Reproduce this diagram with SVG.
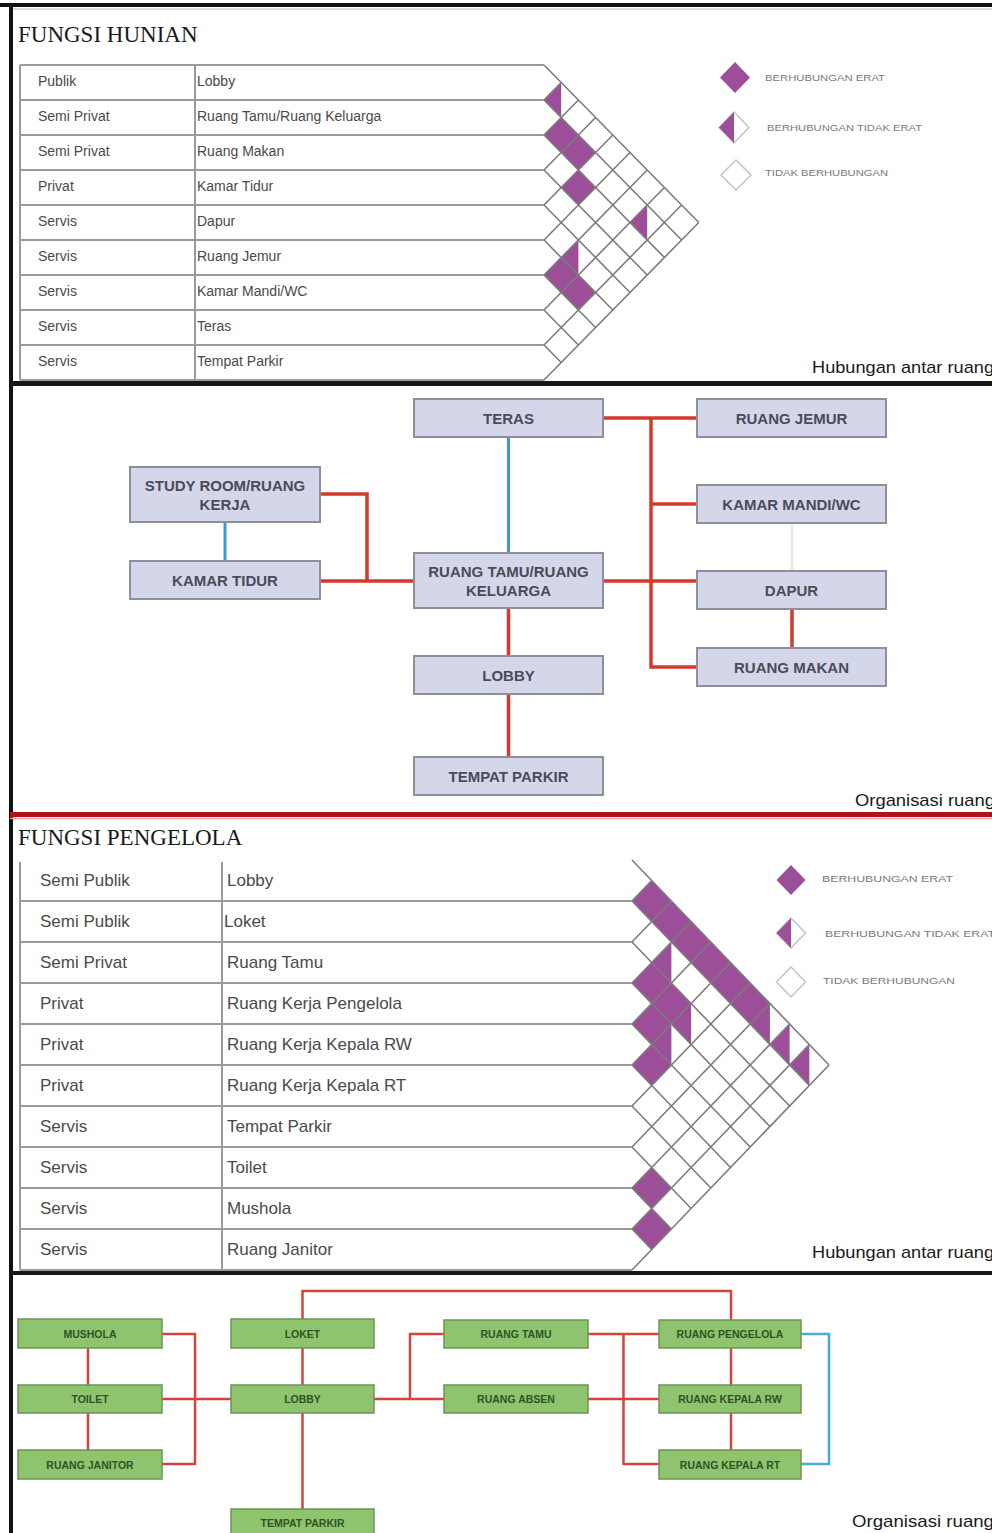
<svg xmlns="http://www.w3.org/2000/svg" width="992" height="1533" viewBox="0 0 992 1533">
<style>
.bg{fill:#ffffff}
.title{font-family:"Liberation Serif",serif;font-size:23px;fill:#1a1a1a}
.t1{font-family:"Liberation Sans",Arial,sans-serif;font-size:14px;fill:#4a4a4a}
.t2{font-family:"Liberation Sans",Arial,sans-serif;font-size:17px;fill:#4a4a4a}
.tl{stroke:#9a9a9a;stroke-width:2;fill:none}
.grid{stroke:#7c7c7c;stroke-width:1.6;fill:none}
.pf{fill:#9c4f98}
.lg{font-family:"Liberation Sans",Arial,sans-serif;font-size:9.5px;fill:#7a7a7a}
.lgo{fill:#ffffff;stroke:#c4c4c4;stroke-width:1.5}
.cap{font-family:"Liberation Sans",Arial,sans-serif;font-size:17px;fill:#1a1a1a}
.nb{fill:#d4d7ea;stroke:#8e8e9c;stroke-width:2}
.nt{font-family:"Liberation Sans",Arial,sans-serif;font-size:15px;font-weight:bold;fill:#4b4b58;text-anchor:middle}
.gb{fill:#8ec46e;stroke:#6c9456;stroke-width:1.5}
.gt{font-family:"Liberation Sans",Arial,sans-serif;font-size:10.5px;font-weight:bold;fill:#2f5324;text-anchor:middle}
.red{stroke:#d23b2c;stroke-width:3.5;fill:none}
.red2{stroke:#d2453c;stroke-width:2.5;fill:none}
.blue{stroke:#3a9bd2;stroke-width:3;fill:none}
.blue2{stroke:#45abe0;stroke-width:2.5;fill:none}
</style>
<rect class="bg" x="0" y="0" width="992" height="1533"/>

<!-- frame and separators -->
<g id="frame">
<rect x="0" y="3" width="992" height="4" fill="#111"/>
<rect x="9" y="3" width="4" height="1530" fill="#111"/>
<line x1="13" y1="9" x2="992" y2="9" stroke="#bbb" stroke-width="1"/>
<rect x="10" y="381" width="982" height="5" fill="#161616"/>
<rect x="10" y="812" width="982" height="5" fill="#b0121a"/>
<line x1="10" y1="818.5" x2="992" y2="818.5" stroke="#e8a0a0" stroke-width="1.5"/>
<rect x="10" y="1271" width="982" height="4" fill="#161616"/>
</g>

<!-- ===== FUNGSI HUNIAN ===== -->
<g id="hunian-matrix">
<text class="title" x="18" y="42">FUNGSI HUNIAN</text>
<path class="tl" d="M20,65H544M20,100H544M20,135H544M20,170H544M20,205H544M20,240H544M20,275H544M20,310H544M20,345H544M20,380H544M20,65V380M195,65V380"/>
<g class="t1">
<text x="38" y="86">Publik</text><text x="197" y="86">Lobby</text>
<text x="38" y="121">Semi Privat</text><text x="197" y="121">Ruang Tamu/Ruang Keluarga</text>
<text x="38" y="156">Semi Privat</text><text x="197" y="156">Ruang Makan</text>
<text x="38" y="191">Privat</text><text x="197" y="191">Kamar Tidur</text>
<text x="38" y="226">Servis</text><text x="197" y="226">Dapur</text>
<text x="38" y="261">Servis</text><text x="197" y="261">Ruang Jemur</text>
<text x="38" y="296">Servis</text><text x="197" y="296">Kamar Mandi/WC</text>
<text x="38" y="331">Servis</text><text x="197" y="331">Teras</text>
<text x="38" y="366">Servis</text><text x="197" y="366">Tempat Parkir</text>
</g>
<g class="pf">
<polygon points="561.2,82.5 544,100 561.2,117.5"/>
<polygon points="561.2,117.5 578.4,135 561.2,152.5 544,135"/>
<polygon points="578.4,135 595.6,152.5 578.4,170 561.2,152.5"/>
<polygon points="578.4,170 595.6,187.5 578.4,205 561.2,187.5"/>
<polygon points="647.2,205 630,222.5 647.2,240"/>
<polygon points="578.4,240 561.2,257.5 578.4,275"/>
<polygon points="561.2,257.5 578.4,275 561.2,292.5 544,275"/>
<polygon points="578.4,275 595.6,292.5 578.4,310 561.2,292.5"/>
</g>
<path class="grid" d="M544,65l154.8,157.5M544,100l137.6,140M544,100l17.2,-17.5M544,135l120.4,122.5M544,135l34.4,-35M544,170l103.2,105M544,170l51.6,-52.5M544,205l86,87.5M544,205l68.8,-70M544,240l68.8,70M544,240l86,-87.5M544,275l51.6,52.5M544,275l103.2,-105M544,310l34.4,35M544,310l120.4,-122.5M544,345l17.2,17.5M544,345l137.6,-140M544,380l154.8,-157.5"/>
</g>

<g id="hunian-legend">
<polygon class="pf" points="735,62 750,77.5 735,93 720,77.5"/>
<text class="lg" x="765" y="81" textLength="120" lengthAdjust="spacingAndGlyphs">BERHUBUNGAN ERAT</text>
<polygon class="lgo" points="734,112 749,127.5 734,143 719,127.5"/>
<polygon class="pf" points="734,112 719,127.5 734,143"/>
<text class="lg" x="767" y="131" textLength="155" lengthAdjust="spacingAndGlyphs">BERHUBUNGAN TIDAK ERAT</text>
<polygon class="lgo" points="736,160 751,175 736,190 721,175"/>
<text class="lg" x="765" y="176" textLength="123" lengthAdjust="spacingAndGlyphs">TIDAK BERHUBUNGAN</text>
<text class="cap" x="812" y="373" textLength="182" lengthAdjust="spacingAndGlyphs">Hubungan antar ruang</text>
</g>

<!-- ===== ORGANISASI HUNIAN ===== -->
<g id="hunian-connectors">
<path class="red" d="M603,418H697M651,418V667H697M651,504H697M603,581H697M792,609V648M320,494H367V581M320,581H414M508.5,608V656M508.5,694V757"/>
<path class="blue" d="M508.5,437V553M225,522V561"/>
<path d="M792,523V571" stroke="#cfcfcf" stroke-width="1" fill="none"/>
</g>
<g id="h-teras"><rect class="nb" x="414" y="399" width="189" height="38"/><text class="nt" x="508.5" y="423.5">TERAS</text></g>
<g id="h-ruang-jemur"><rect class="nb" x="697" y="399" width="189" height="38"/><text class="nt" x="791.5" y="423.5">RUANG JEMUR</text></g>
<g id="h-study"><rect class="nb" x="130" y="467" width="190" height="55"/><text class="nt" x="225" y="491">STUDY ROOM/RUANG</text><text class="nt" x="225" y="510">KERJA</text></g>
<g id="h-kamar-mandi"><rect class="nb" x="697" y="485" width="189" height="38"/><text class="nt" x="791.5" y="509.5">KAMAR MANDI/WC</text></g>
<g id="h-kamar-tidur"><rect class="nb" x="130" y="561" width="190" height="38"/><text class="nt" x="225" y="585.5">KAMAR TIDUR</text></g>
<g id="h-ruang-tamu"><rect class="nb" x="414" y="553" width="189" height="55"/><text class="nt" x="508.5" y="577">RUANG TAMU/RUANG</text><text class="nt" x="508.5" y="596">KELUARGA</text></g>
<g id="h-dapur"><rect class="nb" x="697" y="571" width="189" height="38"/><text class="nt" x="791.5" y="595.5">DAPUR</text></g>
<g id="h-lobby"><rect class="nb" x="414" y="656" width="189" height="38"/><text class="nt" x="508.5" y="680.5">LOBBY</text></g>
<g id="h-ruang-makan"><rect class="nb" x="697" y="648" width="189" height="38"/><text class="nt" x="791.5" y="672.5">RUANG MAKAN</text></g>
<g id="h-tempat-parkir"><rect class="nb" x="414" y="757" width="189" height="38"/><text class="nt" x="508.5" y="781.5">TEMPAT PARKIR</text></g>
<text class="cap" x="855" y="806" textLength="140" lengthAdjust="spacingAndGlyphs">Organisasi ruang</text>

<!-- ===== FUNGSI PENGELOLA ===== -->
<g id="pengelola-matrix">
<text class="title" x="18" y="845">FUNGSI PENGELOLA</text>
<path class="tl" d="M20,901H632M20,942H632M20,983H632M20,1024H632M20,1065H632M20,1106H632M20,1147H632M20,1188H632M20,1229H632M20,1270H632M20,862V1270M222,862V1270"/>
<g class="t2">
<text x="40" y="886">Semi Publik</text><text x="227" y="886">Lobby</text>
<text x="40" y="927">Semi Publik</text><text x="224" y="927">Loket</text>
<text x="40" y="968">Semi Privat</text><text x="227" y="968">Ruang Tamu</text>
<text x="40" y="1009">Privat</text><text x="227" y="1009">Ruang Kerja Pengelola</text>
<text x="40" y="1050">Privat</text><text x="227" y="1050">Ruang Kerja Kepala RW</text>
<text x="40" y="1091">Privat</text><text x="227" y="1091">Ruang Kerja Kepala RT</text>
<text x="40" y="1132">Servis</text><text x="227" y="1132">Tempat Parkir</text>
<text x="40" y="1173">Servis</text><text x="227" y="1173">Toilet</text>
<text x="40" y="1214">Servis</text><text x="227" y="1214">Mushola</text>
<text x="40" y="1255">Servis</text><text x="227" y="1255">Ruang Janitor</text>
</g>
<g class="pf">
<polygon points="651.7,880.5 671.4,901 651.7,921.5 632,901"/>
<polygon points="671.4,901 691.1,921.5 671.4,942 651.7,921.5"/>
<polygon points="691.1,921.5 710.8,942 691.1,962.5 671.4,942"/>
<polygon points="710.8,942 730.5,962.5 710.8,983 691.1,962.5"/>
<polygon points="730.5,962.5 750.2,983 730.5,1003.5 710.8,983"/>
<polygon points="750.2,983 769.9,1003.5 750.2,1024 730.5,1003.5"/>
<polygon points="769.9,1003.5 750.2,1024 769.9,1044.5"/>
<polygon points="789.6,1024 769.9,1044.5 789.6,1065"/>
<polygon points="809.3,1044.5 789.6,1065 809.3,1085.5"/>
<polygon points="671.4,942 651.7,962.5 671.4,983"/>
<polygon points="651.7,962.5 671.4,983 651.7,1003.5 632,983"/>
<polygon points="671.4,983 691.1,1003.5 671.4,1024 651.7,1003.5"/>
<polygon points="691.1,1003.5 671.4,1024 691.1,1044.5"/>
<polygon points="651.7,1003.5 671.4,1024 651.7,1044.5 632,1024"/>
<polygon points="671.4,1024 651.7,1044.5 671.4,1065"/>
<polygon points="651.7,1044.5 671.4,1065 651.7,1085.5 632,1065"/>
<polygon points="651.7,1167.5 671.4,1188 651.7,1208.5 632,1188"/>
<polygon points="651.7,1208.5 671.4,1229 651.7,1249.5 632,1229"/>
</g>
<path class="grid" d="M632,860l197,205M632,901l177.3,184.5M632,901l19.7,-20.5M632,942l157.6,164M632,942l39.4,-41M632,983l137.9,143.5M632,983l59.1,-61.5M632,1024l118.2,123M632,1024l78.8,-82M632,1065l98.5,102.5M632,1065l98.5,-102.5M632,1106l78.8,82M632,1106l118.2,-123M632,1147l59.1,61.5M632,1147l137.9,-143.5M632,1188l39.4,41M632,1188l157.6,-164M632,1229l19.7,20.5M632,1229l177.3,-184.5M632,1270l197,-205"/>
</g>

<g id="pengelola-legend">
<polygon class="pf" points="791,865 805.5,880 791,895 776.5,880"/>
<text class="lg" x="822" y="882" textLength="131" lengthAdjust="spacingAndGlyphs">BERHUBUNGAN ERAT</text>
<polygon class="lgo" points="791,918 805.5,933 791,948 776.5,933"/>
<polygon class="pf" points="791,918 776.5,933 791,948"/>
<text class="lg" x="825" y="937" textLength="170" lengthAdjust="spacingAndGlyphs">BERHUBUNGAN TIDAK ERAT</text>
<polygon class="lgo" points="791,967 805.5,982 791,997 776.5,982"/>
<text class="lg" x="823" y="984" textLength="132" lengthAdjust="spacingAndGlyphs">TIDAK BERHUBUNGAN</text>
<text class="cap" x="812" y="1258" textLength="182" lengthAdjust="spacingAndGlyphs">Hubungan antar ruang</text>
</g>

<!-- ===== ORGANISASI PENGELOLA ===== -->
<g id="pengelola-connectors">
<path class="red2" d="M88,1348V1385M88,1413V1450M162,1334H195V1464H162M162,1399H231M302.5,1348V1385M302.5,1413V1509M302.5,1319V1291H731V1320M374,1399H444M410,1399V1334H444M588,1334H659M588,1399H659M623.5,1334V1464H659M731,1348V1385M731,1413V1450"/>
<path class="blue2" d="M801,1334H829V1464H801"/>
</g>
<g id="p-mushola"><rect class="gb" x="18" y="1319" width="144" height="29"/><text class="gt" x="90" y="1337.5">MUSHOLA</text></g>
<g id="p-toilet"><rect class="gb" x="18" y="1385" width="144" height="28"/><text class="gt" x="90" y="1403">TOILET</text></g>
<g id="p-ruang-janitor"><rect class="gb" x="18" y="1450" width="144" height="29"/><text class="gt" x="90" y="1468.5">RUANG JANITOR</text></g>
<g id="p-loket"><rect class="gb" x="231" y="1319" width="143" height="29"/><text class="gt" x="302.5" y="1337.5">LOKET</text></g>
<g id="p-lobby"><rect class="gb" x="231" y="1385" width="143" height="28"/><text class="gt" x="302.5" y="1403">LOBBY</text></g>
<g id="p-tempat-parkir"><rect class="gb" x="231" y="1509" width="143" height="28"/><text class="gt" x="302.5" y="1527">TEMPAT PARKIR</text></g>
<g id="p-ruang-tamu"><rect class="gb" x="444" y="1320" width="144" height="28"/><text class="gt" x="516" y="1338">RUANG TAMU</text></g>
<g id="p-ruang-absen"><rect class="gb" x="444" y="1385" width="144" height="28"/><text class="gt" x="516" y="1403">RUANG ABSEN</text></g>
<g id="p-ruang-pengelola"><rect class="gb" x="659" y="1320" width="142" height="28"/><text class="gt" x="730" y="1338">RUANG PENGELOLA</text></g>
<g id="p-ruang-kepala-rw"><rect class="gb" x="659" y="1385" width="142" height="28"/><text class="gt" x="730" y="1403">RUANG KEPALA RW</text></g>
<g id="p-ruang-kepala-rt"><rect class="gb" x="659" y="1450" width="142" height="29"/><text class="gt" x="730" y="1468.5">RUANG KEPALA RT</text></g>
<text class="cap" x="852" y="1527" textLength="142" lengthAdjust="spacingAndGlyphs">Organisasi ruang</text>
</svg>
